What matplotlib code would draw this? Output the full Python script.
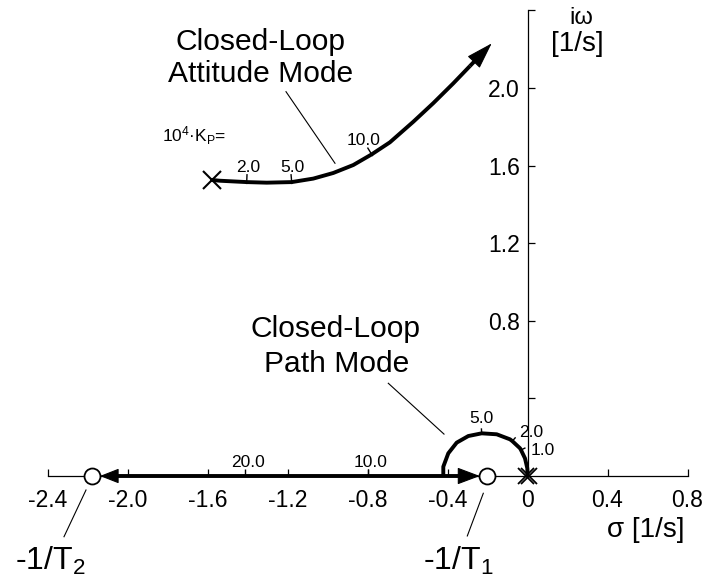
import numpy as np
import matplotlib
matplotlib.use("Agg")
import matplotlib.pyplot as plt
from matplotlib.patches import FancyArrowPatch
from matplotlib.ticker import FixedLocator, FixedFormatter

plt.rcParams["font.family"] = ["Liberation Sans", "DejaVu Sans"]
plt.rcParams["mathtext.fontset"] = "custom"
plt.rcParams["mathtext.rm"] = "Liberation Sans"
plt.rcParams["mathtext.it"] = "Liberation Sans:italic"
plt.rcParams["mathtext.default"] = "rm"
plt.rcParams["axes.unicode_minus"] = False

# ---- root-locus data ------------------------------------------------------
# attitude-mode branch: open-loop pole -> upper right
att_sigma = [-1.579, -1.538, -1.404, -1.304, -1.179, -1.071, -0.971, -0.871,
             -0.779, -0.688, -0.571, -0.471, -0.371, -0.288]
att_omega = [1.526, 1.522, 1.515, 1.512, 1.515, 1.533, 1.562, 1.603,
             1.658, 1.720, 1.826, 1.922, 2.024, 2.113]
att_tip = (-0.179, 2.230)

# path-mode branch: double pole at origin -> break-in on the real axis
arc_sigma = [0.0, -0.001, -0.0125, -0.0325, -0.0375, -0.076, -0.0875, -0.154,
             -0.229, -0.296, -0.354, -0.396, -0.421, -0.421]
arc_omega = [0.0, 0.040, 0.091, 0.134, 0.143, 0.180, 0.189, 0.215,
             0.220, 0.206, 0.172, 0.117, 0.048, 0.0]
breakin = -0.421
real_left_end = -2.138
real_right_end = -0.238

# open-loop poles and zeros
pole_att = (-1.579, 1.526)
pole_origin = [-0.007, 0.007]
zero_1 = -0.201   # -1/T1
zero_2 = -2.179   # -1/T2

# gain marks (10^4 * K_P)
att_gain_lbl = ["2.0", "5.0", "10.0"]
att_gain_sig = [-1.404, -1.179, -0.779]
att_gain_om = [1.515, 1.515, 1.658]
arc_gain_lbl = ["5.0", "2.0", "1.0"]
arc_gain_sig = [-0.229, -0.076, -0.0325]
arc_gain_om = [0.220, 0.180, 0.134]
real_gain_lbl = ["20.0", "10.0"]
real_gain_sig = [-1.4125, -0.800]

# axis ticks
x_ticks = [-2.4, -2.0, -1.6, -1.2, -0.8, -0.4, 0.0, 0.4, 0.8]
x_tick_lbl = ["-2.4", "-2.0", "-1.6", "-1.2", "-0.8", "-0.4", "0", "0.4", "0.8"]
y_ticks = [0.4, 0.8, 1.2, 1.6, 2.0, 2.4]
y_tick_lbl = ["", "0.8", "1.2", "1.6", "2.0", ""]

# ---- figure / axes --------------------------------------------------------
fig = plt.figure(figsize=(7.03, 5.79), dpi=100)
ax = fig.add_axes([0, 0, 1, 1])
ax.set_xlim(-2.6375, 0.8775)
ax.set_ylim(-0.5309, 2.4536)
ax.patch.set_visible(False)

for s in ("top", "right"):
    ax.spines[s].set_visible(False)
ax.spines["left"].set_position(("data", 0.0))
ax.spines["bottom"].set_position(("data", 0.0))
ax.spines["left"].set_bounds(0.0, 2.4)
ax.spines["bottom"].set_bounds(-2.4, 0.8)
for s in ("left", "bottom"):
    ax.spines[s].set_linewidth(0.9)

ax.xaxis.set_major_locator(FixedLocator(x_ticks))
ax.xaxis.set_major_formatter(FixedFormatter(x_tick_lbl))
ax.yaxis.set_major_locator(FixedLocator(y_ticks))
ax.yaxis.set_major_formatter(FixedFormatter(y_tick_lbl))
ax.tick_params(axis="x", direction="in", length=5, width=0.9, pad=9.5,
               labelsize=16.5)
ax.tick_params(axis="y", direction="in", length=5, width=0.9, pad=5.5,
               labelsize=16.5)

LW = 2.8
K = "black"


def to_px(x, y):
    return ax.transData.transform((x, y))


def to_data(p):
    return ax.transData.inverted().transform(p)


def arrow_head(tail, tip, head_len, half_w):
    """Thick shaft from tail towards tip, finished by a filled head."""
    p0, p1 = to_px(*tail), to_px(*tip)
    d = (p1 - p0) / np.hypot(*(p1 - p0))
    base = to_data(p1 - d * head_len * 0.6 * 100 / 72)
    ax.plot([tail[0], base[0]], [tail[1], base[1]], color=K, lw=LW,
            solid_capstyle="butt", zorder=3)
    ax.add_patch(FancyArrowPatch(tail, tip, mutation_scale=1, lw=0.8,
                                 color=K, shrinkA=0, shrinkB=0, zorder=4,
                                 arrowstyle=f"-|>,head_length={head_len},"
                                            f"head_width={half_w}"))


def gain_tick(x, y, xs, ys, lo, hi):
    """Short stroke across a branch, along its upward normal (pixels)."""
    pts = ax.transData.transform(np.column_stack([xs, ys]))
    p = to_px(x, y)
    i = int(np.argmin(np.hypot(*(pts - p).T)))
    t = pts[min(i + 1, len(pts) - 1)] - pts[max(i - 1, 0)]
    t = t / np.hypot(*t)
    n = np.array([-t[1], t[0]])
    if n[1] < 0:
        n = -n
    a = to_data(np.array([p + lo * n, p + hi * n]))
    ax.plot(a[:, 0], a[:, 1], color=K, lw=1.0, solid_capstyle="butt", zorder=4)


def gain_label(txt, x, y, dx, dy):
    ax.annotate(txt, (x, y), xytext=(dx * 0.72, dy * 0.72),
                textcoords="offset points", ha="center", va="baseline",
                fontsize=12.5, zorder=5)


# attitude-mode branch
ax.plot(att_sigma, att_omega, color=K, lw=LW, solid_capstyle="butt",
        solid_joinstyle="round", zorder=3)
arrow_head((att_sigma[-1], att_omega[-1]), att_tip, 17, 5.4)

# path-mode semicircle and real-axis branches
ax.plot(arc_sigma, arc_omega, color=K, lw=LW, solid_capstyle="butt",
        solid_joinstyle="round", zorder=3)
arrow_head((breakin, 0.0), (real_left_end, 0.0), 12, 4.7)
arrow_head((breakin, 0.0), (real_right_end, 0.0), 14.4, 5.4)

# poles and zeros
ax.plot(*pole_att, marker="x", ms=12.5, mew=1.5, color=K, ls="none", zorder=5)
ax.plot(pole_origin, [0.0, 0.0], marker="x", ms=12, mew=1.3, color=K,
        ls="none", zorder=5)
ax.plot([zero_1, zero_2], [0.0, 0.0], marker="o", ms=11.5, mew=1.3, mec=K,
        mfc="white", ls="none", zorder=6)

# gain marks
for lbl, s, w in zip(att_gain_lbl, att_gain_sig, att_gain_om):
    gain_tick(s, w, att_sigma, att_omega, -2, 8)
gain_label(att_gain_lbl[0], att_gain_sig[0], att_gain_om[0], 1, 10)
gain_label(att_gain_lbl[1], att_gain_sig[1], att_gain_om[1], 0.5, 10)
gain_label(att_gain_lbl[2], att_gain_sig[2], att_gain_om[2], -8, 9)

for lbl, s, w in zip(arc_gain_lbl, arc_gain_sig, arc_gain_om):
    gain_tick(s, w, arc_sigma, arc_omega, -1, 5)
gain_label(arc_gain_lbl[0], arc_gain_sig[0], arc_gain_om[0], 0, 10)
gain_label(arc_gain_lbl[1], arc_gain_sig[1], arc_gain_om[1], 18.7, 4.4)
gain_label(arc_gain_lbl[2], arc_gain_sig[2], arc_gain_om[2], 22, -5)

for lbl, s in zip(real_gain_lbl, real_gain_sig):
    gain_tick(s, 0.0, [breakin, real_left_end], [0.0, 0.0], 0, 7)
    gain_label(lbl, s, 0.0, 3.5, 9.3)

ax.text(-1.829, 1.723, r"10$^4$·K$_P$=", fontsize=12.5, ha="left",
        va="baseline")

# mode labels and leaders
BIG = 21.6
ax.text(-1.3375, 2.196, "Closed-Loop", fontsize=BIG, ha="center", va="baseline")
ax.text(-1.3335, 2.032, "Attitude Mode", fontsize=BIG, ha="center",
        va="baseline")
ax.plot([-1.2075, -0.9625], [1.981, 1.612], color=K, lw=0.8)

ax.text(-0.9585, 0.718, "Closed-Loop", fontsize=BIG, ha="center", va="baseline")
ax.text(-0.954, 0.5376, "Path Mode", fontsize=BIG, ha="center", va="baseline")
ax.plot([-0.696, -0.4175], [0.478, 0.216], color=K, lw=0.8)

ax.text(-2.5625, -0.4845, r"-1/T$_2$", fontsize=23, ha="left", va="baseline")
ax.plot([-2.2075, -2.3175], [-0.0722, -0.313], color=K, lw=0.8)
ax.text(-0.521, -0.4845, r"-1/T$_1$", fontsize=23, ha="left", va="baseline")
ax.plot([-0.221, -0.301], [-0.089, -0.309], color=K, lw=0.8)

# axis titles
ax.text(0.59, -0.314, "σ [1/s]", fontsize=20, ha="center", va="baseline")
ax.text(0.2675, 2.330, "iω", fontsize=17, ha="center", va="baseline")
ax.text(0.25, 2.191, "[1/s]", fontsize=20, ha="center", va="baseline")

fig.savefig("out.png", dpi=100)
